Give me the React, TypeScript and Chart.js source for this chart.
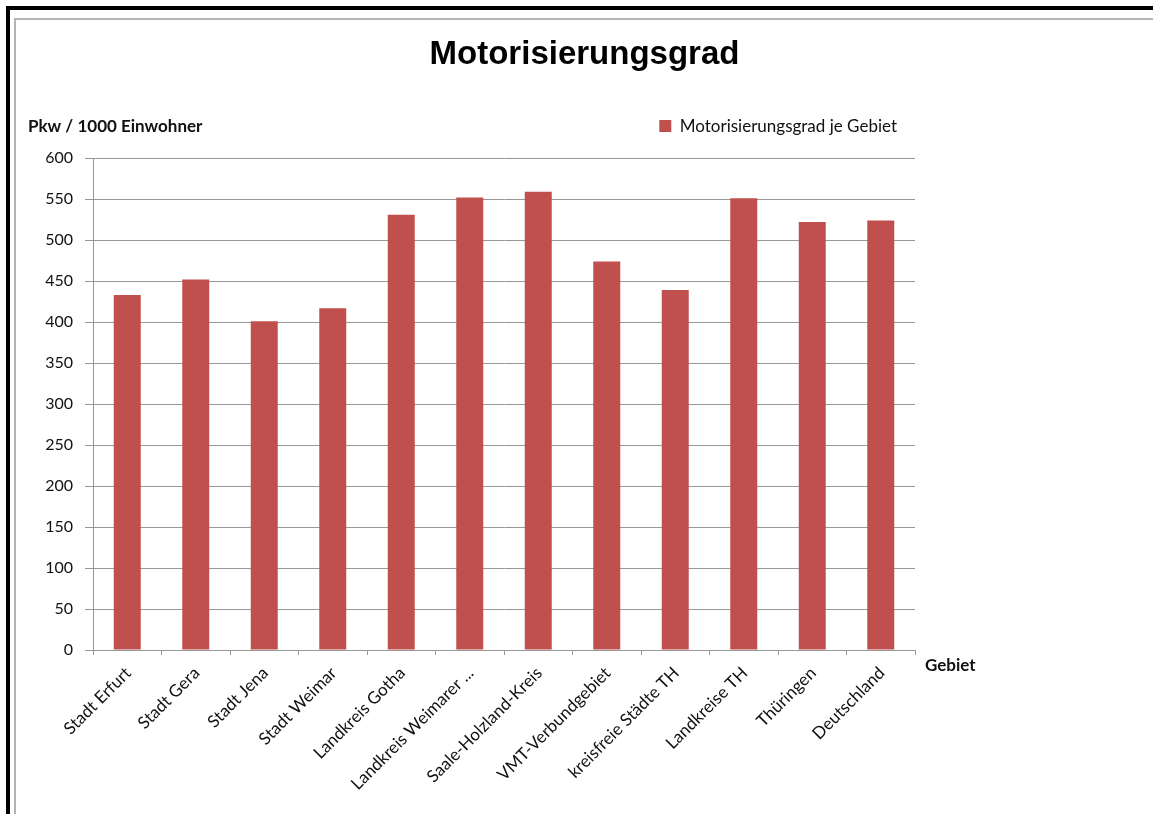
import React, { useEffect, useRef } from 'react';
import { Chart, registerables } from 'chart.js';

Chart.register(...registerables);

const chartTitle = 'Motorisierungsgrad';
const seriesLabel = 'Motorisierungsgrad je Gebiet';
const yAxisTitle = 'Pkw / 1000 Einwohner';
const xAxisTitle = 'Gebiet';

const categories = [
  'Stadt Erfurt',
  'Stadt Gera',
  'Stadt Jena',
  'Stadt Weimar',
  'Landkreis Gotha',
  'Landkreis Weimarer ...',
  'Saale-Holzland-Kreis',
  'VMT-Verbundgebiet',
  'kreisfreie Städte TH',
  'Landkreise TH',
  'Thüringen',
  'Deutschland',
];

const values = [433, 452, 401, 417, 531, 552, 559, 474, 439, 551, 522, 524];

const yMin = 0;
const yMax = 600;
const yStep = 50;

const BAR_COLOR = '#C0504D';
const GRID_COLOR = '#989898';
const TEXT_COLOR = '#111111';
const LABEL_FONT = 'Lato, "Open Sans", sans-serif';

const axisTitlesPlugin = {
  id: 'axisTitles',
  afterDraw(chart: any) {
    const ctx = chart.ctx;
    const area = chart.chartArea;
    ctx.save();
    ctx.fillStyle = TEXT_COLOR;
    ctx.font = `bold 17px ${LABEL_FONT}`;
    ctx.textBaseline = 'middle';
    ctx.textAlign = 'left';
    ctx.fillText(yAxisTitle, 12, 107);
    ctx.fillText(xAxisTitle, area.right + 10, area.bottom + 16);
    ctx.restore();
  },
};

const legendSpacerPlugin = {
  id: 'legendSpacer',
  beforeInit(chart: any) {
    const origFit = chart.legend.fit;
    chart.legend.fit = function () {
      origFit.bind(chart.legend)();
      this.height += 13.5;
    };
  },
};

export default function App() {
  const canvasRef = useRef<HTMLCanvasElement | null>(null);

  useEffect(() => {
    if (!canvasRef.current) return;
    const chart = new Chart(canvasRef.current, {
      type: 'bar',
      data: {
        labels: categories,
        datasets: [
          {
            label: seriesLabel,
            data: values,
            backgroundColor: BAR_COLOR,
            borderWidth: 0,
            categoryPercentage: 1,
            barPercentage: 0.394,
          },
        ],
      },
      plugins: [legendSpacerPlugin, axisTitlesPlugin],
      options: {
        animation: false,
        responsive: false,
        maintainAspectRatio: false,
        layout: { padding: 0 },
        plugins: {
          title: {
            display: true,
            text: chartTitle,
            color: '#000',
            font: { family: '"Liberation Sans", Arial, sans-serif', size: 33, weight: 'bold' },
            padding: { top: 15, bottom: 25 },
          },
          legend: {
            display: true,
            position: 'top',
            align: 'end',
            fullSize: false,
            labels: {
              boxWidth: 12,
              boxHeight: 12,
              padding: 18,
              color: TEXT_COLOR,
              font: { family: LABEL_FONT, size: 17 },
            },
          },
          tooltip: { enabled: false },
        },
        scales: {
          x: {
            offset: true,
            grid: {
              offset: true,
              drawOnChartArea: false,
              drawTicks: true,
              tickLength: 5,
              color: GRID_COLOR,
            },
            border: { color: GRID_COLOR, width: 1 },
            ticks: {
              color: TEXT_COLOR,
              font: { family: LABEL_FONT, size: 17 },
              minRotation: 45,
              maxRotation: 45,
              autoSkip: false,
              padding: 8,
              labelOffset: 1,
            },
            afterFit: (s: any) => {
              s.height = 164;
            },
          },
          y: {
            min: yMin,
            max: yMax,
            grid: { color: GRID_COLOR, tickLength: 8, lineWidth: 1 },
            border: { color: GRID_COLOR, width: 1 },
            ticks: {
              stepSize: yStep,
              color: TEXT_COLOR,
              font: { family: LABEL_FONT, size: 16 },
              padding: 12,
            },
            afterFit: (s: any) => {
              s.width = 77;
            },
          },
          yRight: {
            position: 'right',
            display: true,
            grid: { display: false },
            border: { display: false },
            ticks: { display: false },
            afterFit: (s: any) => {
              s.width = 238;
            },
          },
        },
      } as any,
    });
    return () => chart.destroy();
  }, []);

  return (
    <div
      style={{
        position: 'fixed',
        left: 0,
        top: 0,
        width: 1153,
        height: 814,
        overflow: 'hidden',
        background: '#fff',
      }}
    >
      <div
        style={{
          position: 'absolute',
          left: 6,
          top: 6,
          width: 1200,
          height: 900,
          borderTop: '4px solid #000',
          borderLeft: '4px solid #000',
        }}
      />
      <div
        style={{
          position: 'absolute',
          left: 14,
          top: 18,
          width: 1200,
          height: 795,
          borderTop: '2px solid #b4b4b4',
          borderLeft: '2px solid #b4b4b4',
          borderBottom: '1px solid #e6e6e6',
        }}
      />
      <canvas
        ref={canvasRef}
        width={1137}
        height={794}
        style={{ position: 'absolute', left: 16, top: 20, width: 1137, height: 794 }}
      />
    </div>
  );
}
